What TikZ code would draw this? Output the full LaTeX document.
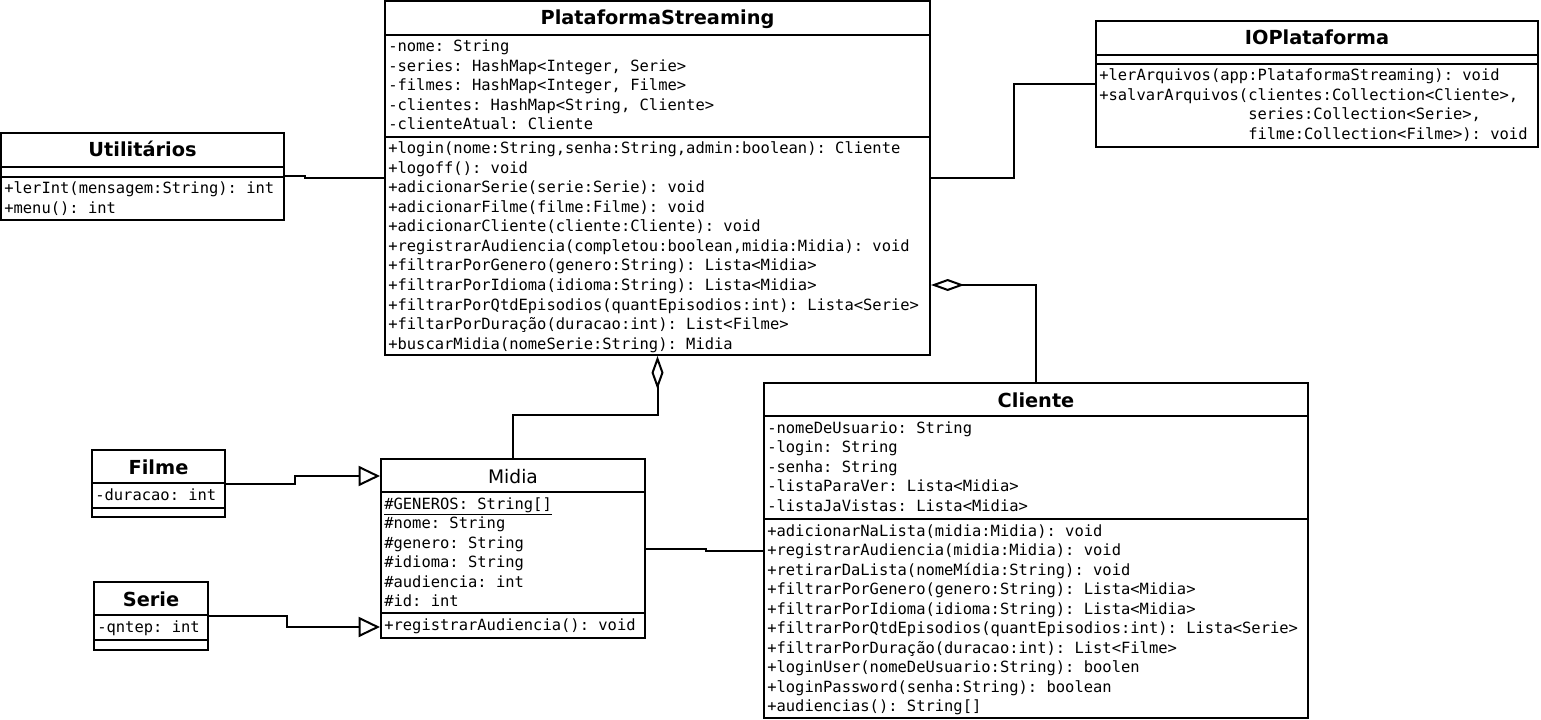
\documentclass[tikz,border=0pt]{standalone}
\usepackage{fontspec}
\setmainfont{DejaVu Sans}
\newfontfamily\umlmono{DejaVu Sans Mono}
\usetikzlibrary{arrows.meta,fit}
\tikzset{
      classbox/.style={
        draw,
        line width=1.5pt,
        inner sep=0pt
      },
      classname/.style={anchor=base, inner sep=0pt, font=\fontsize{14.5}{16}\selectfont\bfseries},
      member/.style={anchor=base west, inner sep=0pt, font=\umlmono\fontsize{11.6}{14}\selectfont\frenchspacing},
      divider/.style={line width=1.5pt},
      assoc/.style={line width=1.5pt},
      aggr/.style={line width=1.5pt, -{Diamond[open, length=25pt, width=9pt]}},
      inherit/.style={line width=1.5pt, -{Triangle[open, length=16pt, width=15pt]}}
    }
\newcommand{\members}[4]{%
  \foreach \txt [count=\k] in {#4}
    \node[member] (#1-\k) at (#2, {#3+19.5*(\k-1)}) {\txt};}

\begin{document}
\begin{tikzpicture}[x=0.75pt,y=-0.75pt]
    \useasboundingbox (0,0) rectangle (1541,720);
    % PlataformaStreaming
    \node[classbox, fit={(385,1) (930,355)}] (ps) {};
    \draw[divider] (385,35) -- (930,35) (385,137) -- (930,137);
    \node[classname] (ps-name) at (ps.north |- 0,25) {PlataformaStreaming};
    \members{ps-a}{388}{52}{-nome: String, {-series: HashMap<Integer, Serie>}, {-filmes: HashMap<Integer, Filme>}, {-clientes: HashMap<String, Cliente>}, -clienteAtual: Cliente}
    \members{ps-m}{388}{154}{{+login(nome:String,senha:String,admin:boolean): Cliente}, +logoff(): void, +adicionarSerie(serie:Serie): void, +adicionarFilme(filme:Filme): void, +adicionarCliente(cliente:Cliente): void, {+registrarAudiencia(completou:boolean,midia:Midia): void}, +filtrarPorGenero(genero:String): Lista<Midia>, +filtrarPorIdioma(idioma:String): Lista<Midia>, +filtrarPorQtdEpisodios(quantEpisodios:int): Lista<Serie>, +filtarPorDuração(duracao:int): List<Filme>, +buscarMidia(nomeSerie:String): Midia}
    % IOPlataforma
    \node[classbox, fit={(1096,21) (1538,147)}] (io) {};
    \draw[divider] (1096,55) -- (1538,55) (1096,64) -- (1538,64);
    \node[classname] (io-name) at (io.north |- 0,45) {IOPlataforma};
    \members{io-m}{1099}{81}{+lerArquivos(app:PlataformaStreaming): void, {+salvarArquivos(clientes:Collection<Cliente>,}, {\phantom{+salvarArquivos(}series:Collection<Serie>,}, {\phantom{+salvarArquivos(}filme:Collection<Filme>): void}}
    % Utilitarios
    \node[classbox, fit={(1,133) (284,220)}] (util) {};
    \draw[divider] (1,167) -- (284,167) (1,177) -- (284,177);
    \node[classname] (util-name) at (util.north |- 0,157) {Utilitários};
    \members{util-m}{4}{194}{+lerInt(mensagem:String): int, +menu(): int}
    % Filme
    \node[classbox, fit={(92,450) (225,517)}] (filme) {};
    \draw[divider] (92,483) -- (225,483) (92,508) -- (225,508);
    \node[classname] (filme-name) at (filme.north |- 0,474) {Filme};
    \members{filme-a}{95}{500}{-duracao: int}
    % Serie
    \node[classbox, fit={(94,582) (208,650)}] (serie) {};
    \draw[divider] (94,615) -- (208,615) (94,640) -- (208,640);
    \node[classname] (serie-name) at (serie.north |- 0,606) {Serie};
    \members{serie-a}{97}{632}{-qntep: int}
    % Midia
    \node[classbox, fit={(381,459) (645,638)}] (midia) {};
    \draw[divider] (381,492) -- (645,492) (381,613) -- (645,613);
    \node[classname, font=\fontsize{14}{16}\selectfont] (midia-name) at (midia.north |- 0,483) {Midia};
    \members{midia-a}{384}{509}{{\underline{\#GENEROS: String[]}}, \#nome: String, \#genero: String, \#idioma: String, \#audiencia: int, \#id: int}
    \members{midia-m}{384}{630}{+registrarAudiencia(): void}
    % Cliente
    \node[classbox, fit={(764,383) (1308,718)}] (cliente) {};
    \draw[divider] (764,416) -- (1308,416) (764,519) -- (1308,519);
    \node[classname] (cliente-name) at (cliente.north |- 0,407) {Cliente};
    \members{cliente-a}{767}{433}{-nomeDeUsuario: String, -login: String, -senha: String, -listaParaVer: Lista<Midia>, -listaJaVistas: Lista<Midia>}
    \members{cliente-m}{767}{536}{+adicionarNaLista(midia:Midia): void, +registrarAudiencia(midia:Midia): void, +retirarDaLista(nomeMídia:String): void, +filtrarPorGenero(genero:String): Lista<Midia>, +filtrarPorIdioma(idioma:String): Lista<Midia>, +filtrarPorQtdEpisodios(quantEpisodios:int): Lista<Serie>, +filtrarPorDuração(duracao:int): List<Filme>, +loginUser(nomeDeUsuario:String): boolen, +loginPassword(senha:String): boolean, +audiencias(): String[]}
    % relations
    \draw[assoc] (util.east) -- ++(20,0) |- (ps.west);
    \draw[assoc] (ps.east) -- ++(83,0) |- (io.west);
    \draw[aggr] (cliente.north) |- (ps.east |- 0,285);
    \draw[aggr] (midia.north) -- ++(0,-43) -| (ps.south);
    \draw[inherit] (filme.east) -- ++(69,0) |- (midia.west |- 0,476);
    \draw[inherit] (serie.east) -- ++(78,0) |- (midia.west |- 0,627);
    \draw[assoc] (midia.east) -- ++(60,0) |- (cliente.west);
    \end{tikzpicture}
\end{document}
